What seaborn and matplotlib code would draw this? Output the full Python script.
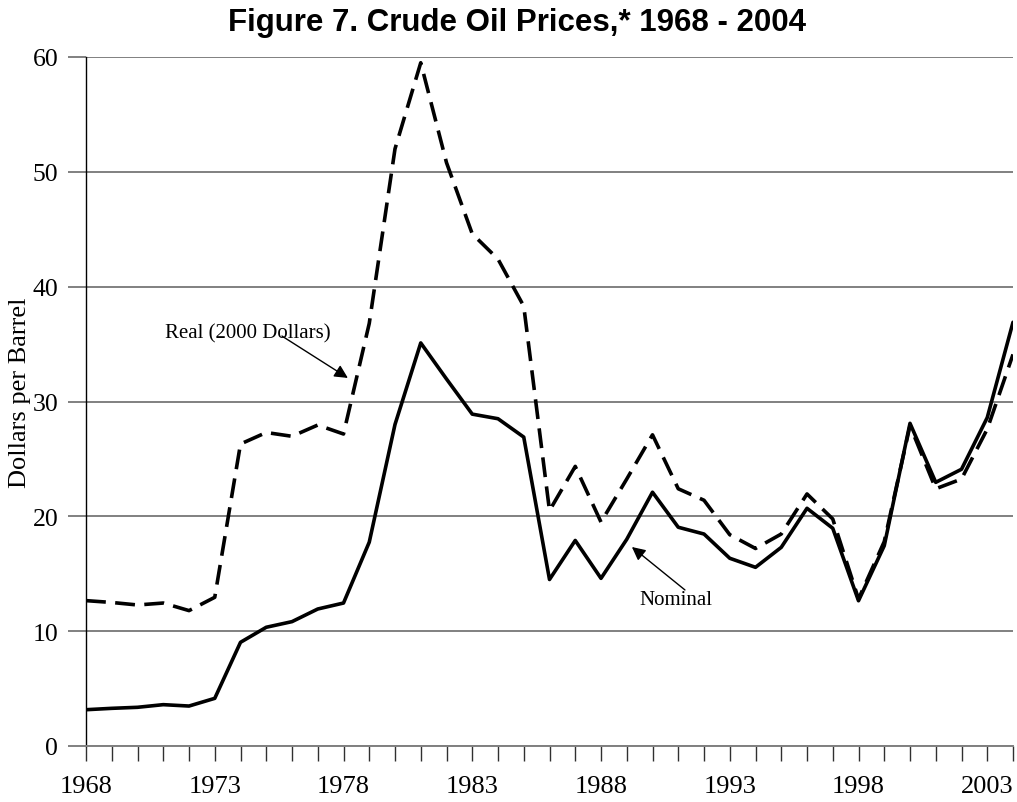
import numpy as np
import pandas as pd
import matplotlib
matplotlib.use("Agg")
import matplotlib.pyplot as plt
import seaborn as sns

years = list(range(1968, 2005))
nominal = [3.16, 3.28, 3.37, 3.60, 3.48, 4.15, 9.03, 10.34, 10.83, 11.93, 12.45, 17.75,
           28.0, 35.1, 31.96, 28.9, 28.5, 26.9, 14.5, 17.9, 14.6, 18.0,
           22.1, 19.05, 18.46, 16.35, 15.56, 17.3, 20.7, 18.96, 12.65, 17.44,
           28.1, 22.96, 24.1, 28.6, 36.9]
real = [12.66, 12.5, 12.28, 12.45, 11.79, 12.95, 26.3, 27.3, 26.97, 27.95, 27.17, 36.8,
        52.0, 59.5, 50.8, 44.6, 42.4, 38.3, 20.5, 24.35, 19.5, 23.25,
        27.1, 22.4, 21.4, 18.4, 17.2, 18.46, 21.95, 19.77, 12.8, 17.8,
        27.9, 22.4, 23.25, 27.6, 34.1]
label_years = list(range(1968, 2004, 5))
y_ticks = [0, 10, 20, 30, 40, 50, 60]

title = "Figure 7. Crude Oil Prices,* 1968 - 2004"
ylabel = "Dollars per Barrel"

sns.set_style("white")
plt.rcParams['font.family'] = ['Liberation Serif', 'DejaVu Serif']
plt.rcParams['text.color'] = 'black'
plt.rcParams['xtick.labelcolor'] = 'black'
plt.rcParams['ytick.labelcolor'] = 'black'
plt.rcParams['axes.labelcolor'] = 'black'

df = pd.DataFrame({"year": years, "nominal": nominal, "real": real})

fig = plt.figure(figsize=(10.17, 8.03), dpi=100)
ax = fig.add_axes([86/1017, 56/803, 927/1017, 689/803])

sns.lineplot(data=df, x="year", y="nominal", ax=ax, color="black", lw=2.6)
sns.lineplot(data=df, x="year", y="real", ax=ax, color="black", lw=2.6,
             linestyle=(0, (5.5, 2.6)))

ax.set_xlim(1968, 2004)
ax.set_ylim(0, 60)
ax.set_yticks(y_ticks)
ax.set_yticklabels([str(v) for v in y_ticks], fontsize=18.5, color='black')
ax.set_xticks(label_years)
ax.set_xticklabels([str(v) for v in label_years], fontsize=19, color='black')
ax.set_xticks(years, minor=True)
ax.tick_params(axis='x', which='both', bottom=True, direction='out', length=11, width=1,
               color='#303030', pad=10)
ax.tick_params(axis='y', left=True, direction='out', length=13, width=1.4,
               color='#808080', pad=7)
ax.grid(axis='y', color='#808080', lw=1.4)
ax.grid(axis='x', visible=False)
ax.set_axisbelow(True)

for s in ['top', 'right']:
    ax.spines[s].set_visible(False)
ax.spines['left'].set_color('black')
ax.spines['left'].set_linewidth(1.0)
ax.spines['bottom'].set_color('#808080')
ax.spines['bottom'].set_linewidth(1.4)

ax.set_xlabel("")
ax.set_ylabel(ylabel, fontsize=19, va='center', color='black')
ax.yaxis.set_label_coords(-0.071, 0.514)

ax.text(1974.29, 36.0, "Real (2000 Dollars)", fontsize=15, ha='center', va='center',
        color='black')
ax.annotate("", xy=(1978.17, 32.05), xytext=(1975.61, 35.7),
            arrowprops=dict(arrowstyle='-|>', color='black', lw=1.0, mutation_scale=20,
                            shrinkA=0, shrinkB=0))
ax.text(1990.91, 12.8, "Nominal", fontsize=15, ha='center', va='center', color='black')
ax.annotate("", xy=(1989.2, 17.33), xytext=(1991.26, 13.59),
            arrowprops=dict(arrowstyle='-|>', color='black', lw=1.0, mutation_scale=20,
                            shrinkA=0, shrinkB=0))

fig.text(517/1017, 1 - 23/803, title, fontsize=22.5, fontweight='bold', color='black',
         family=['Liberation Sans', 'DejaVu Sans'], ha='center', va='center')

fig.savefig("out.png", dpi=100)
